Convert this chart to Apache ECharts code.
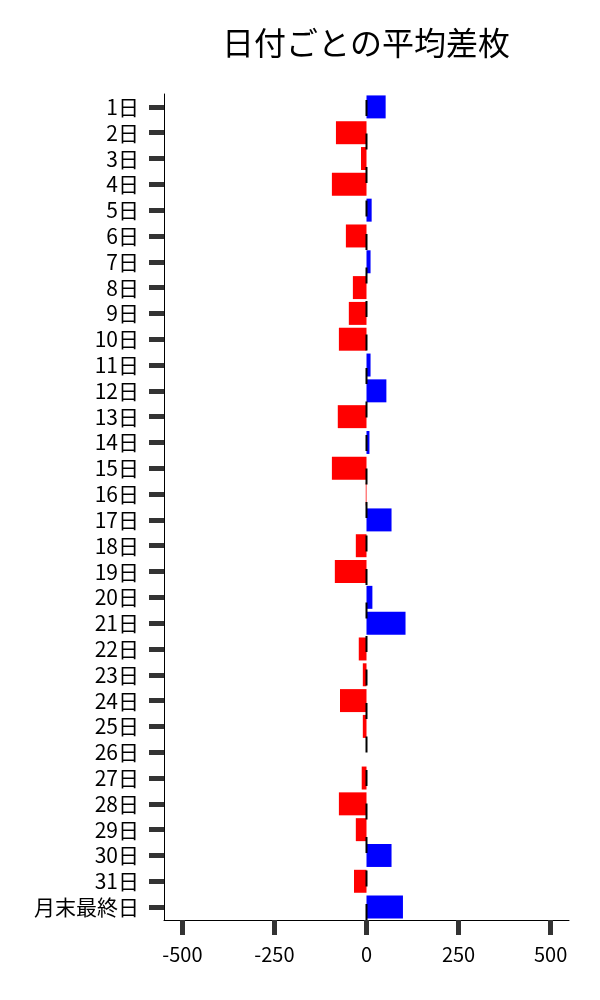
<!DOCTYPE html>
<html>
<head>
<meta charset="utf-8">
<script src="https://cdn.jsdelivr.net/npm/echarts@6/dist/echarts.min.js"></script>
<style>html,body{margin:0;padding:0;background:#fff}#c{width:600px;height:1000px}</style>
</head>
<body>
<div id="c"></div>
<script>
const categories = ['1日','2日','3日','4日','5日','6日','7日','8日','9日','10日','11日','12日','13日','14日','15日','16日','17日','18日','19日','20日','21日','22日','23日','24日','25日','26日','27日','28日','29日','30日','31日','月末最終日'];
const avgDiff = [52,-83,-15,-94,14,-56,11,-37,-48,-75,11,54,-78,8,-94,-2,68,-29,-86,16,106,-21,-10,-72,-10,0,-13,-75,-29,68,-34,99];
const xTickValues = [-500,-250,0,250,500];
const titleText = '日付ごとの平均差枚';

const FONT = 'Noto Sans CJK JP';
const GRID = {left: 164, right: 31, top: 94, bottom: 80};
const chart = echarts.init(document.getElementById('c'), null, {renderer:'canvas'});
chart.setOption({
  animation: false,
  backgroundColor: '#fff',
  textStyle: {fontFamily: FONT},
  grid: Object.assign({containLabel: false}, GRID),
  xAxis: {
    type: 'value', min: -550, max: 550,
    axisLine: {show: true, onZero: false, lineStyle: {color: '#000', width: 1}},
    axisTick: {show: true, customValues: xTickValues, length: 15, lineStyle: {color: '#333', width: 5}},
    axisLabel: {customValues: xTickValues, margin: 24, fontSize: 20, color: '#000', fontFamily: FONT},
    splitLine: {show: false}
  },
  yAxis: {
    type: 'category', data: categories, inverse: true,
    axisLine: {show: true, onZero: false, lineStyle: {color: '#000', width: 1}},
    axisTick: {show: true, alignWithLabel: true, interval: 0, length: 15, lineStyle: {color: '#333', width: 5}},
    axisLabel: {interval: 0, margin: 25, fontSize: 21, color: '#000', fontFamily: FONT},
    splitLine: {show: false}
  },
  series: [{
    type: 'bar',
    data: avgDiff,
    barCategoryGap: '11%',
    itemStyle: {color: p => p.value >= 0 ? '#0000ff' : '#ff0000'}
  }]
});
// dashed zero line, drawn from the bottom of the plot upward (x from the axis scale)
const zx = chart.convertToPixel({xAxisIndex: 0}, 0);
const yBottom = 1000 - GRID.bottom, yTop = GRID.top;
chart.setOption({
  graphic: [{
    type: 'text', x: 366, y: 43, z: 100,
    style: {text: titleText, align: 'center', verticalAlign: 'middle',
      fontFamily: FONT, fontSize: 32, fontWeight: 'normal', fill: '#000'}
  }, {
    type: 'line', z: 100, silent: true,
    shape: {x1: zx, y1: yBottom, x2: zx, y2: yTop},
    style: {stroke: '#000', lineWidth: 2, lineDash: [16, 17.5]}
  }]
});
</script>
</body>
</html>
